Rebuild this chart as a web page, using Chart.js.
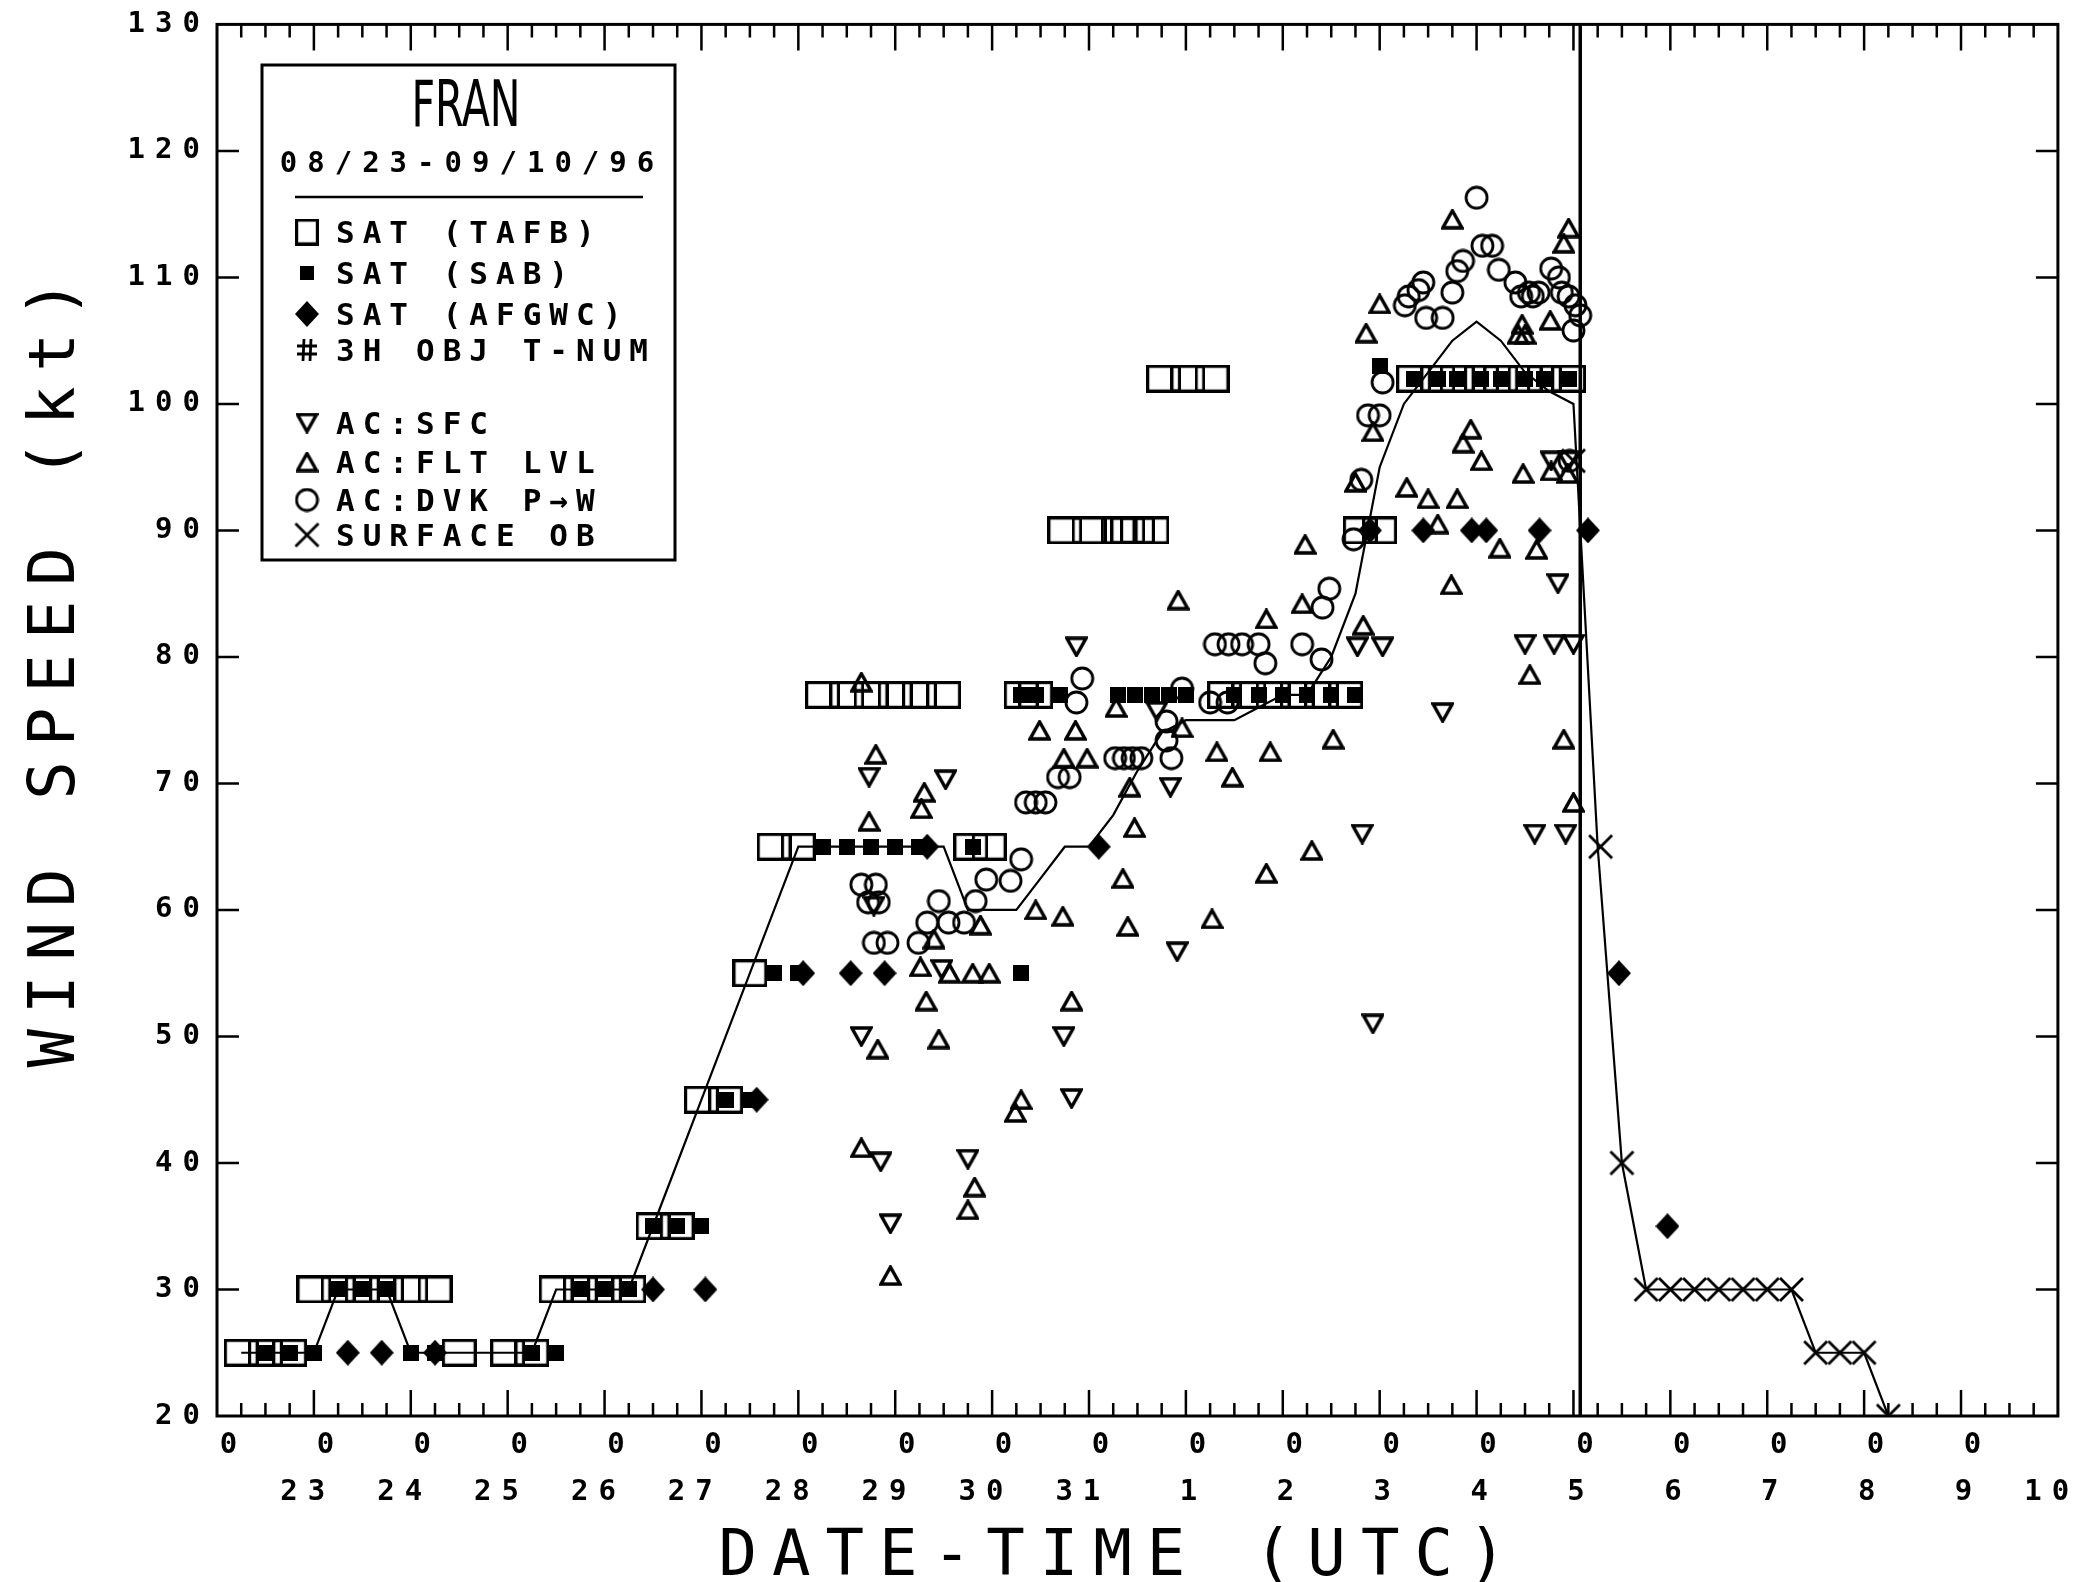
<!DOCTYPE html>
<html>
<head>
<meta charset="utf-8">
<title>FRAN wind speed</title>
<script src="https://cdn.jsdelivr.net/npm/chart.js@4.4.1/dist/chart.umd.min.js"></script>
<style>
  html, body { margin: 0; padding: 0; background: #fff; }
  #wrap { width: 2092px; height: 1582px; }
</style>
</head>
<body>
<div id="wrap"><canvas id="fran"></canvas></div>
<script>
const MONO = '"DejaVu Sans Mono", "Liberation Mono", monospace';

// x = days after 00 UTC 23 Aug 1996, y = wind speed (kt)
const bestTrack = [[0.25,25],[0.5,25],[0.75,25],[1,25],[1.25,30],[1.5,30],[1.75,30],[2,25],[2.25,25],[2.5,25],
  [2.75,25],[3,25],[3.25,25],[3.5,30],[3.75,30],[4,30],[4.25,30],[4.5,35],[4.75,40],[5,45],[5.25,50],[5.5,55],
  [5.75,60],[6,65],[6.25,65],[6.5,65],[6.75,65],[7,65],[7.25,65],[7.5,65],[7.75,60],[8,60],[8.25,60],[8.5,62.5],
  [8.75,65],[9,65],[9.25,67.5],[9.5,71],[9.75,74],[10,75],[10.25,75],[10.5,75],[10.75,76],[11,77],[11.25,77],
  [11.5,80],[11.75,85],[12,95],[12.25,100],[12.5,102.5],[12.75,105],[13,106.5],[13.25,105],[13.5,102.5],
  [13.75,101],[14,100],[14.25,65],[14.5,40],[14.75,30],[15,30],[15.25,30],[15.5,30],[15.75,30],[16,30],
  [16.25,30],[16.5,25],[16.75,25],[17,25],[17.25,20]];

const satTafb = [[0.25,25],[0.5,25],[0.75,25],[1,30],[1.25,30],[1.5,30],[1.75,30],[2,30],[2.25,30],
  [2.5,25],[3,25],[3.25,25],[3.5,30],[3.75,30],[4,30],[4.25,30],[4.5,35],[4.75,35],[5,45],[5.25,45],[5.5,55],
  [5.75,65],[6,65],[6.25,77],[6.5,77],[6.75,77],[7,77],[7.25,77],[7.5,77],[7.78,65],[7.97,65],[8.3,77],[8.45,77],
  [8.75,90],[9,90],[9.3,90],[9.4,90],[9.5,90],[9.65,90],[9.77,102],[10.02,102],[10.27,102],
  [10.4,77],[10.65,77],[10.9,77],[11.15,77],[11.4,77],[11.65,77],[11.8,90],[12,90],
  [12.35,102],[12.6,102],[12.8,102],[13.05,102],[13.25,102],[13.5,102],[13.7,102],[13.95,102]];

const satSab = [[0.5,25],[0.75,25],[1,25],[2,25],[2.25,25],[3.25,25],[3.5,25],[1.25,30],[1.5,30],[1.75,30],
  [3.75,30],[4,30],[4.25,30],[4.5,35],[4.75,35],[5,35],[5.25,45],[5.5,45],[5.75,55],[6,55],
  [6.25,65],[6.5,65],[6.75,65],[7,65],[7.25,65],[7.8,65],[8.3,55],[8.3,77],[8.45,77],[8.7,77],
  [9.3,77],[9.47,77],[9.65,77],[9.83,77],[10,77],[10.5,77],[10.75,77],[11,77],[11.25,77],[11.5,77],[11.75,77],
  [12,103],[12.35,102],[12.6,102],[12.8,102],[13.05,102],[13.25,102],[13.5,102],[13.7,102],[13.95,102]];

const satAfgwc = [[1.35,25],[1.7,25],[2.25,25],[4.5,30],[5.04,30],[5.57,45],[6.05,55],[6.54,55],[6.89,55],
  [7.33,65],[9.1,65],[11.9,90],[12.45,90],[12.95,90],[13.1,90],[13.65,90],[14.15,90],[14.47,55],[14.97,35]];

const objTnum = [];

const acSfc = [[6.73,70.5],[7.52,70.3],[6.65,50],[6.85,40.1],[6.95,35.2],[7.75,40.3],[8.82,45.1],[8.74,50],
  [8.87,80.8],[9.7,75.7],[9.84,69.7],[9.91,56.7],[11.82,66],[11.93,51],[11.77,80.8],[12.03,80.8],[12.65,75.6],
  [13.5,81],[13.8,81],[14,81],[13.84,85.8],[13.6,66],[13.92,66],[13.77,95.5],[13.95,95.5],[7.48,55.3],[6.78,60.3]];

const acFlt = [[6.65,78],[6.8,72.3],[6.73,67],[7.3,69.3],[7.27,68],[8.49,74.2],[8.86,74.2],[8.74,72],[8.98,72],
  [9.28,76],[9.47,66.5],[9.35,62.5],[9.4,58.7],[8.45,60],[8.73,59.5],[7.88,58.8],[7.4,57.7],[7.26,55.5],
  [7.56,55],[7.8,55],[7.97,55],[7.32,52.8],[8.82,52.8],[6.82,49],[7.45,49.8],[8.3,45],[8.24,44],[6.65,41.2],
  [7.82,38.1],[7.75,36.3],[6.95,31.1],[9.92,84.5],[10.27,59.3],[10.83,62.9],[11.3,64.7],[10.32,72.5],
  [10.48,70.5],[10.87,72.5],[11.52,73.5],[10.83,83],[11.2,84.2],[11.83,82.5],[12.28,93.4],[12.5,92.5],
  [12.6,90.5],[12.8,92.5],[12.94,98],[12.86,96.9],[13.05,95.5],[13.48,94.5],[13.24,88.6],[13.62,88.5],
  [12.74,85.7],[13.9,73.5],[14,68.5],[13.55,78.6],[12.75,114.6],[12,107.9],[11.86,105.6],[13.76,106.6],
  [13.95,113.9],[13.9,112.7],[13.43,105.5],[13.5,105.5],[13.47,106.3],[11.93,97.8],[11.75,93.8],[11.23,88.9],
  [13.77,94.7],[13.94,94.5],[9.96,74.4],[9.42,69.7]];

const acDvk = [[6.65,62],[6.8,62],[6.72,60.6],[6.83,60.6],[6.78,57.4],[6.92,57.4],[7.24,57.4],[7.33,59],
  [7.45,60.7],[7.55,59],[7.71,59],[7.83,60.7],[7.94,62.4],[8.19,62.3],[8.3,64],[8.35,68.5],[8.45,68.5],
  [8.55,68.5],[8.87,76.4],[8.93,78.3],[8.68,70.5],[8.8,70.5],[9.27,72],[9.36,72],[9.45,72],[9.54,72],
  [9.8,74.9],[9.8,73.4],[9.85,72],[9.96,77.5],[10.3,81],[10.44,81],[10.58,81],[10.75,81],[10.82,79.5],
  [11.2,81],[11.4,79.8],[10.25,76.4],[10.43,76.4],[11.41,83.9],[11.48,85.4],[11.73,89.3],[11.81,94],
  [11.88,99.1],[12,99.1],[12.03,101.7],[12.45,109.6],[12.4,109],[12.3,108.5],[12.26,107.8],[12.48,106.8],
  [12.65,106.8],[12.75,108.8],[12.8,110.5],[12.86,111.3],[13.06,112.5],[13.16,112.5],[13.23,110.6],
  [13.4,109.6],[13.54,108.8],[13.64,108.8],[13.77,110.7],[13.88,108.8],[14.02,107.8],[14.07,107],
  [14,105.8],[13,116.3],[13.46,108.5],[13.58,108.5],[13.85,110],[13.95,108.5],[13.96,95.5]];

const sfcOb = [[14,95.5],[14.28,65],[14.5,40],[14.75,30],[15,30],[15.25,30],[15.5,30],[15.75,30],[16,30],
  [16.25,30],[16.5,25],[16.75,25],[17,25],[17.25,20]];

const landfall = [[14.07,20],[14.07,130]];

const dateLabels = ['23','24','25','26','27','28','29','30','31','1','2','3','4','5','6','7','8','9','10'];
const hourLabels = ['0','0','0','0','0','0','0','0','0','0','0','0','0','0','0','0','0','0','0'];
const xTitle = 'DATE-TIME (UTC)';
const yTitle = 'WIND SPEED (kt)';
const stormName = 'FRAN';
const stormDates = '08/23-09/10/96';
const legendLabels = ['SAT (TAFB)','SAT (SAB)','SAT (AFGWC)','3H OBJ T-NUM','AC:SFC','AC:FLT LVL','AC:DVK P\u2192W','SURFACE OB'];

// --- marker glyphs ---
function marker(w, h, paint) {
  const c = document.createElement('canvas');
  c.width = w; c.height = h;
  const g = c.getContext('2d');
  g.strokeStyle = '#000'; g.fillStyle = '#000';
  paint(g, w, h);
  return c;
}
const openBox = (w, h) => marker(w, h, g => { g.lineWidth = 3.2; g.strokeRect(1.6, 1.6, w - 3.2, h - 3.2); });
const tri = (w, h, down) => marker(w, h, g => {
  g.lineWidth = 3.4; g.lineJoin = 'miter';
  g.beginPath();
  if (down) { g.moveTo(2, 2); g.lineTo(w - 2, 2); g.lineTo(w / 2, h - 2); }
  else { g.moveTo(2, h - 2); g.lineTo(w - 2, h - 2); g.lineTo(w / 2, 2); }
  g.closePath(); g.stroke();
});
const mk = {
  tafb: openBox(35, 28),
  sab: marker(16, 16, (g, w, h) => g.fillRect(0, 0, w, h)),
  afgwc: marker(24, 26, (g, w, h) => {
    g.beginPath(); g.moveTo(w / 2, 0); g.lineTo(w, h / 2); g.lineTo(w / 2, h); g.lineTo(0, h / 2);
    g.closePath(); g.fill();
  }),
  tnum: marker(22, 24, (g, w, h) => {
    g.lineWidth = 2.8; g.beginPath();
    g.moveTo(8, 1); g.lineTo(7, h - 1); g.moveTo(15, 1); g.lineTo(14, h - 1);
    g.moveTo(1, 8); g.lineTo(w - 1, 8); g.moveTo(1, 16); g.lineTo(w - 1, 16);
    g.stroke();
  }),
  sfc: tri(23, 21, true),
  flt: tri(23, 21, false),
  dvk: marker(25, 25, g => { g.lineWidth = 2.8; g.beginPath(); g.arc(12.5, 12.5, 10.5, 0, Math.PI * 2); g.stroke(); }),
  ob: marker(27, 27, g => {
    g.lineWidth = 2.8; g.beginPath();
    g.moveTo(2, 2); g.lineTo(25, 25); g.moveTo(25, 2); g.lineTo(2, 25); g.stroke();
  })
};
const legendMarks = [openBox(24, 27), marker(14, 14, (g, w, h) => g.fillRect(0, 0, w, h)), mk.afgwc, mk.tnum,
  mk.sfc, mk.flt, mk.dvk, mk.ob];

const pts = arr => arr.map(([x, y]) => ({x, y}));
const marks = (label, arr, style) => ({label, data: pts(arr), pointStyle: style, pointRadius: 6, showLine: false});

// ticks pointing into the plot, the frame and the two axis titles
const plotFrame = {
  id: 'plotFrame',
  beforeDraw(chart) { chart.ctx.letterSpacing = '10px'; },
  afterDraw(chart) {
    const {ctx, chartArea: a, scales: {x, y}} = chart;
    ctx.save();
    ctx.strokeStyle = '#000';
    ctx.lineWidth = 2.5;
    ctx.beginPath();
    for (let q = 1; q < 76; q++) {
      const px = x.getPixelForValue(q / 4);
      const len = q % 4 === 0 ? 26 : 13;
      ctx.moveTo(px, a.bottom); ctx.lineTo(px, a.bottom - len);
      ctx.moveTo(px, a.top); ctx.lineTo(px, a.top + len);
    }
    for (let v = 30; v < 130; v += 10) {
      const py = y.getPixelForValue(v);
      ctx.moveTo(a.left, py); ctx.lineTo(a.left + 22, py);
      ctx.moveTo(a.right, py); ctx.lineTo(a.right - 22, py);
    }
    ctx.stroke();
    ctx.lineWidth = 3;
    ctx.strokeRect(a.left, a.top, a.right - a.left, a.bottom - a.top);

    ctx.fillStyle = '#000';
    ctx.font = '64px ' + MONO;
    ctx.letterSpacing = '15px';
    ctx.textAlign = 'center';
    ctx.textBaseline = 'alphabetic';
    ctx.fillText(xTitle, 1113 + 7, 1575);
    ctx.save();
    ctx.translate(74, 673);
    ctx.rotate(-Math.PI / 2);
    ctx.fillText(yTitle, 7, 0);
    ctx.restore();
    ctx.restore();
  }
};

const legendBox = {
  id: 'legendBox',
  afterDraw(chart) {
    const ctx = chart.ctx;
    const rows = [232, 273, 314, 350, 423, 462, 500, 535];
    ctx.save();
    ctx.fillStyle = '#fff';
    ctx.fillRect(262, 65, 413, 495);
    ctx.strokeStyle = '#000'; ctx.fillStyle = '#000';
    ctx.lineWidth = 3;
    ctx.strokeRect(262, 65, 413, 495);

    ctx.letterSpacing = '0px';
    ctx.font = '64px "Liberation Sans Narrow", "DejaVu Sans Condensed", "DejaVu Sans", sans-serif';
    const w = ctx.measureText(stormName).width;
    ctx.save();
    ctx.translate(466, 126);
    ctx.scale(109 / w, 1);
    ctx.textAlign = 'center'; ctx.textBaseline = 'alphabetic';
    ctx.fillText(stormName, 0, 0);
    ctx.restore();

    ctx.letterSpacing = '10px';
    ctx.font = 'bold 29px ' + MONO;
    ctx.textAlign = 'center'; ctx.textBaseline = 'alphabetic';
    ctx.fillText(stormDates, 472, 172);

    ctx.lineWidth = 2.5;
    ctx.beginPath(); ctx.moveTo(295, 197); ctx.lineTo(643, 197); ctx.stroke();

    ctx.textAlign = 'left';
    ctx.font = 'bold 31px ' + MONO;
    ctx.letterSpacing = '8px';
    rows.forEach((ry, i) => {
      const img = legendMarks[i];
      ctx.drawImage(img, 307 - img.width / 2, ry - img.height / 2);
      ctx.fillText(legendLabels[i], 336, ry + 11);
    });
    ctx.restore();
  }
};

Chart.defaults.color = '#000';
Chart.defaults.font.family = MONO;

new Chart(document.getElementById('fran'), {
  type: 'scatter',
  data: {
    datasets: [
      marks('SURFACE OB', sfcOb, mk.ob),
      marks('AC:DVK P\u2192W', acDvk, mk.dvk),
      marks('AC:FLT LVL', acFlt, mk.flt),
      marks('AC:SFC', acSfc, mk.sfc),
      marks('3H OBJ T-NUM', objTnum, mk.tnum),
      marks('SAT (AFGWC)', satAfgwc, mk.afgwc),
      marks('SAT (SAB)', satSab, mk.sab),
      marks('SAT (TAFB)', satTafb, mk.tafb),
      {label: 'best track', data: pts(bestTrack), showLine: true, borderColor: '#000', borderWidth: 2.2,
       pointRadius: 0, tension: 0},
      {label: 'landfall', data: pts(landfall), showLine: true, borderColor: '#000', borderWidth: 3.5,
       pointRadius: 0}
    ]
  },
  options: {
    responsive: true,
    maintainAspectRatio: false,
    animation: false,
    events: [],
    layout: {autoPadding: false, padding: {left: 0, right: 19, top: 24, bottom: 0}},
    plugins: {legend: {display: false}, tooltip: {enabled: false}},
    scales: {
      x: {
        type: 'linear', position: 'bottom', min: 0, max: 19,
        grid: {display: false, drawTicks: false}, border: {display: false},
        afterBuildTicks: s => { s.ticks = hourLabels.map((_, i) => ({value: i + 0.17})); },
        afterFit: s => { s.height = 46; },
        ticks: {font: {size: 29, weight: 'bold'}, padding: 12, maxRotation: 0, minRotation: 0, autoSkip: false,
                callback: (v, i) => hourLabels[i]}
      },
      x2: {
        type: 'linear', position: 'bottom', min: 0, max: 19,
        grid: {display: false, drawTicks: false}, border: {display: false},
        afterBuildTicks: s => { s.ticks = dateLabels.map((_, i) => ({value: i + 1.22})); },
        afterFit: s => { s.height = 120; },
        ticks: {font: {size: 29, weight: 'bold'}, padding: 13, align: 'end', maxRotation: 0, minRotation: 0,
                autoSkip: false, callback: (v, i) => dateLabels[i]}
      },
      y: {
        type: 'linear', position: 'left', min: 20, max: 130,
        grid: {display: false, drawTicks: false}, border: {display: false},
        afterFit: s => { s.width = 217; },
        ticks: {stepSize: 10, font: {size: 29, weight: 'bold'}, padding: 7}
      }
    }
  },
  plugins: [plotFrame, legendBox]
});
</script>
</body>
</html>
